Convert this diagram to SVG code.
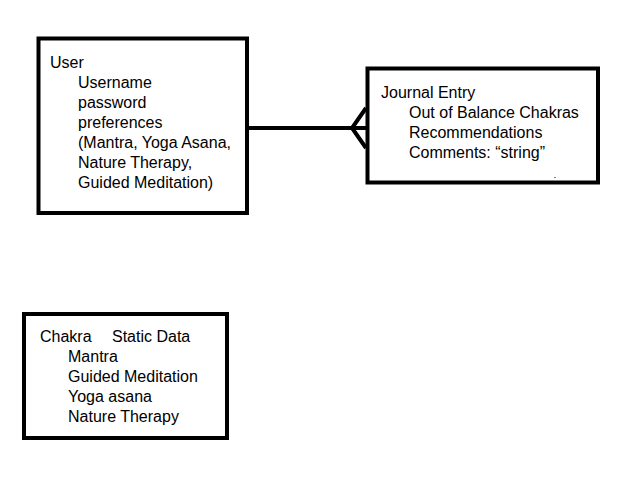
<svg xmlns="http://www.w3.org/2000/svg" width="640" height="480" viewBox="0 0 640 480">
<style>
.box{fill:#fff;stroke:#000;stroke-width:4}
.t{font-family:"Liberation Sans",Arial,Helvetica,sans-serif;font-size:16px;fill:#000}
.c{fill:none;stroke:#000;stroke-width:4}
</style>
<rect width="640" height="480" fill="#fff"/>
<g id="connectors">
<line class="c" x1="247" y1="128" x2="366" y2="128"/>
<polyline class="c" points="366,108 352,128 366,148"/>
</g>
<g id="user">
<rect class="box" x="38.5" y="38.5" width="208.5" height="174.5"/>
<text class="t" x="50" y="68">User</text>
<text class="t" x="78" y="88">Username</text>
<text class="t" x="78" y="108">password</text>
<text class="t" x="78" y="128">preferences</text>
<text class="t" x="78" y="148">(Mantra, Yoga Asana,</text>
<text class="t" x="78" y="168">Nature Therapy,</text>
<text class="t" x="78" y="188">Guided Meditation)</text>
</g>
<g id="journal">
<rect class="box" x="367.5" y="68.5" width="230.5" height="114"/>
<text class="t" x="381" y="98">Journal Entry</text>
<text class="t" x="409" y="118">Out of Balance Chakras</text>
<text class="t" x="409" y="138">Recommendations</text>
<text class="t" x="409" y="158">Comments: “string”</text>
<rect x="554.5" y="177" width="1" height="1" fill="#000"/>
</g>
<g id="chakra">
<rect class="box" x="24" y="314" width="203" height="124"/>
<text class="t" x="40" y="342">Chakra</text>
<text class="t" x="112" y="342">Static Data</text>
<text class="t" x="68" y="362">Mantra</text>
<text class="t" x="68" y="382">Guided Meditation</text>
<text class="t" x="68" y="402">Yoga asana</text>
<text class="t" x="68" y="422">Nature Therapy</text>
</g>
</svg>
